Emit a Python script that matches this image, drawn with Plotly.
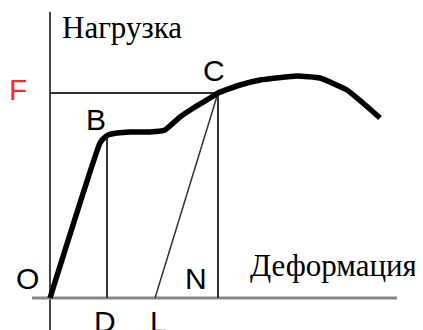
import plotly.graph_objects as go

# Load-deformation curve (origin O at 0,0)
strain = [0, 50, 54, 58, 67, 80, 100, 115, 130, 145, 160, 168, 190, 210, 247, 270, 297, 313, 330]
load = [0, 155, 160, 163, 165, 166, 166, 168, 181, 191, 200, 205, 213, 218, 222, 220, 208, 195, 180]

# Key points
x_C, y_C = 168, 205
x_D, y_D = 57, 163
x_L = 105

labels = ["F", "B", "C", "O", "N", "D", "L"]
label_x = [-32, 46, 164, -23, 146, 55, 108]
label_y = [209, 179, 228, 20, 20, -23, -23]
label_colors = ["#ff2a2a", "#000", "#000", "#000", "#000", "#000", "#000"]

axis_y_title = "Нагрузка"
axis_x_title = "Деформация"

fig = go.Figure()

# axes
fig.add_trace(go.Scatter(x=[0, 0], y=[-40, 286], mode="lines",
                         line=dict(color="#444", width=2), hoverinfo="skip"))
fig.add_trace(go.Scatter(x=[-18, 347], y=[0, 0], mode="lines",
                         line=dict(color="#888", width=3), hoverinfo="skip"))
# F horizontal line
fig.add_trace(go.Scatter(x=[0, x_C], y=[y_C, y_C], mode="lines",
                         line=dict(color="#333", width=2), hoverinfo="skip"))
# C-N vertical
fig.add_trace(go.Scatter(x=[x_C, x_C], y=[0, y_C], mode="lines",
                         line=dict(color="#333", width=2), hoverinfo="skip"))
# B-D vertical
fig.add_trace(go.Scatter(x=[x_D, x_D], y=[0, y_D], mode="lines",
                         line=dict(color="#333", width=2), hoverinfo="skip"))
# unloading line L-C
fig.add_trace(go.Scatter(x=[x_L, x_C], y=[0, y_C], mode="lines",
                         line=dict(color="#333", width=1.5), hoverinfo="skip"))
# main curve
fig.add_trace(go.Scatter(x=strain, y=load, mode="lines",
                         line=dict(color="#000", width=5.5, shape="spline", smoothing=0.4),
                         hoverinfo="skip"))

for t, x, y, c in zip(labels, label_x, label_y, label_colors):
    fig.add_annotation(x=x, y=y, text=t, showarrow=False,
                       font=dict(family="Liberation Sans, Arial", size=30, color=c),
                       xanchor="center", yanchor="middle")

fig.add_annotation(x=72, y=271, text=axis_y_title, showarrow=False,
                   font=dict(family="Liberation Serif, Times New Roman", size=31, color="#000"),
                   xanchor="center", yanchor="middle")
fig.add_annotation(x=283, y=33, text=axis_x_title, showarrow=False,
                   font=dict(family="Liberation Serif, Times New Roman", size=31, color="#000"),
                   xanchor="center", yanchor="middle")

fig.update_layout(
    width=423, height=330,
    margin=dict(l=0, r=0, t=0, b=0),
    paper_bgcolor="white", plot_bgcolor="white",
    showlegend=False,
    xaxis=dict(range=[-42, 381], visible=False, fixedrange=True),
    yaxis=dict(range=[-40, 290], visible=False, fixedrange=True),
)

fig.write_html("out.html", config={"displayModeBar": False})
